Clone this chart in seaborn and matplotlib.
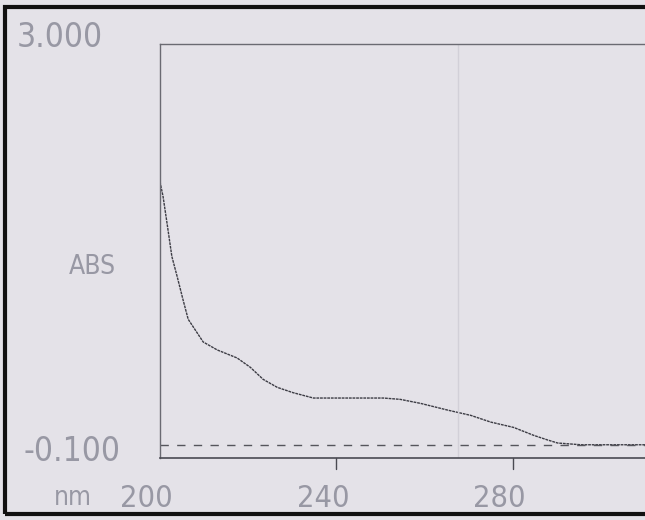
import matplotlib
matplotlib.use("Agg")
import matplotlib.pyplot as plt
import seaborn as sns
import pandas as pd
from matplotlib.patches import Rectangle

wavelength = [200.0, 200.7, 201.6, 202.7, 203.9, 205.2, 206.4, 208.4, 209.8, 213.0,
              217.5, 220.5, 223.4, 226.6, 230.2, 234.8, 243.2, 250.7, 254.5, 259.1,
              265.2, 270.5, 275.0, 280.2, 284.8, 288.0, 290.2, 295.5, 310.0]
absorbance = [1.97, 1.86, 1.66, 1.41, 1.26, 1.09, 0.94, 0.84, 0.77, 0.71,
              0.65, 0.58, 0.49, 0.43, 0.39, 0.35, 0.35, 0.35, 0.34, 0.31,
              0.26, 0.22, 0.17, 0.13, 0.07, 0.035, 0.013, 0.0, 0.0]
x_ticks = [200, 240, 280]
y_range = [-0.1, 3.0]
y_labels = ["-0.100", "3.000"]

df = pd.DataFrame({"nm": wavelength, "ABS": absorbance})

sns.set_style("white")
bg = "#e4e2e8"
fig = plt.figure(figsize=(6.45, 5.2), dpi=100, facecolor=bg)
ax = fig.add_axes([0.248, 0.119, 0.752, 0.796], facecolor=bg)

sns.lineplot(data=df, x="nm", y="ABS", ax=ax, color="#3c3c44", linewidth=1.0,
             linestyle=(0, (2, 0.6)))
ax.axhline(0.0, color="#55555c", linewidth=1.0, linestyle=(0, (6, 6)))

ax.set_xlim(200, 310)
ax.set_ylim(y_range[0], y_range[1])
ax.set_xticks([])
ax.set_yticks([])
ax.set_xlabel("")
ax.set_ylabel("")

ax.spines["right"].set_visible(False)
for s in ["left", "top"]:
    ax.spines[s].set_color("#6a6a72")
    ax.spines[s].set_linestyle((0, (1, 1)))
    ax.spines[s].set_linewidth(1.0)
ax.spines["bottom"].set_color("#4a4a52")
ax.spines["bottom"].set_linewidth(1.2)

# faint crease line in the photographed printout
ax.axvline(267.5, color="#d2d0d8", linewidth=1.0)

# downward tick marks under the axis
for t in x_ticks[1:]:
    ax.plot([t, t], [y_range[0], y_range[0] - 0.08], color="#4a4a52",
            linewidth=1.0, clip_on=False)

fam = ["Liberation Sans Narrow", "DejaVu Sans"]
txt = dict(color="#9898a4", family=fam, fontstretch="condensed", fontsize=24)
for t in x_ticks:
    ax.text(t - 3.0, y_range[0] - 0.3, str(t), ha="center", va="center",
            **{**txt, "fontsize": 22})
fig.text(0.113, 0.042, "nm", ha="center", va="center", **{**txt, "fontsize": 19})
fig.text(0.112, 0.131, y_labels[0], ha="center", va="center", **txt)
fig.text(0.093, 0.928, y_labels[1], ha="center", va="center", **txt)
fig.text(0.143, 0.486, "ABS", ha="center", va="center", **{**txt, "fontsize": 19})

# photo frame
fig.patches.append(Rectangle((0.008, 0.012), 1.2, 0.975, transform=fig.transFigure,
                             fill=False, edgecolor="#111111", linewidth=3))

fig.savefig("out.png", dpi=100, facecolor=bg)
